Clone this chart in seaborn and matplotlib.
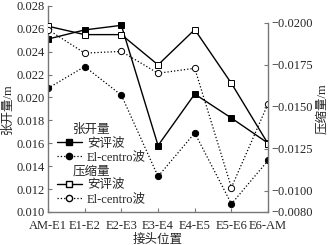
import matplotlib
matplotlib.use("Agg")
import matplotlib.pyplot as plt
import seaborn as sns
import pandas as pd
from matplotlib.lines import Line2D

sns.set_style("ticks")
plt.rcParams['font.family'] = ['Liberation Serif', 'Noto Sans CJK SC']
plt.rcParams['axes.unicode_minus'] = True

categories = ["AM-E1", "E1-E2", "E2-E3", "E3-E4", "E4-E5", "E5-E6", "E6-AM"]
open_anping = [0.0251, 0.0259, 0.0263, 0.0158, 0.0203, 0.0182, 0.0160]
open_elcentro = [0.0208, 0.0227, 0.0202, 0.0131, 0.0169, 0.0107, 0.0145]
comp_anping = [-0.0198, -0.0193, -0.0193, -0.0175, -0.0196, -0.0164, -0.0128]
comp_elcentro = [-0.0196, -0.0182, -0.0183, -0.0170, -0.0173, -0.0102, -0.0152]
left_ticks = [0.010, 0.012, 0.014, 0.016, 0.018, 0.020, 0.022, 0.024, 0.026, 0.028]
right_ticks = [-0.0200, -0.0175, -0.0150, -0.0125, -0.0100, -0.00875]
right_labels = ["\u22120.0200", "\u22120.0175", "\u22120.0150", "\u22120.0125", "\u22120.0100", "\u22120.0080"]

fig = plt.figure(figsize=(3.31, 2.45), dpi=100)
ax = fig.add_axes([0.145, 0.135, 0.665, 0.841])
ax2 = ax.twinx()

spine_c = "#777777"
fs = 9

def draw(axis, vals, ls, marker, mfc, lw):
    df = pd.DataFrame({"x": categories, "y": vals})
    sns.lineplot(data=df, x="x", y="y", ax=axis, color="black", linestyle=ls,
                 linewidth=lw, marker=marker, markersize=4.5,
                 markerfacecolor=mfc, markeredgecolor="black", markeredgewidth=0.7,
                 sort=False, legend=False)

draw(ax, open_anping, "-", "s", "black", 1.0)
draw(ax, open_elcentro, ":", "o", "black", 0.9)
draw(ax2, comp_anping, "-", "s", "white", 1.0)
draw(ax2, comp_elcentro, ":", "o", "white", 0.9)

ax.set_xlim(0, 6)
ax.set_ylim(0.010, 0.028)
ax.set_yticks(left_ticks)
ax.set_yticklabels([f"{t:.3f}" for t in left_ticks], fontsize=fs)
ax.set_xticks(range(len(categories)))
ax.set_xticklabels(categories, fontsize=fs)
ax.set_xlabel("接头位置", fontsize=fs, labelpad=1)
ax.set_ylabel("张开量/m", fontsize=fs, labelpad=2)

ax2.set_ylim(-0.00875, -0.02101)
ax2.set_yticks(right_ticks)
ax2.set_yticklabels(right_labels, fontsize=fs)
ax2.set_ylabel("压缩量/m", fontsize=fs, labelpad=3)
ax2.set_xlabel("")

for a in (ax, ax2):
    a.spines["top"].set_visible(False)
    for s in a.spines.values():
        s.set_color(spine_c)
        s.set_linewidth(1.0)
    a.tick_params(direction="in", length=3, width=0.8, color=spine_c, pad=2)
ax.tick_params(axis="x", pad=6)
ax.spines["right"].set_visible(False)
ax2.spines["left"].set_visible(False)
ax2.spines["bottom"].set_visible(False)
ax2.spines["right"].set_bounds(-0.00875, -0.0200)

blank = Line2D([], [], linestyle="none")
handles = [
    blank,
    Line2D([], [], color="black", linestyle="-", lw=1.0, marker="s", markersize=4.5, mfc="black", mec="black"),
    Line2D([], [], color="black", linestyle=":", lw=0.9, marker="o", markersize=4.5, mfc="black", mec="black"),
    blank,
    Line2D([], [], color="black", linestyle="-", lw=1.0, marker="s", markersize=4.5, mfc="white", mec="black"),
    Line2D([], [], color="black", linestyle=":", lw=0.9, marker="o", markersize=4.5, mfc="white", mec="black"),
]
labels = ["张开量", "安评波", "El-centro波", "压缩量", "安评波", "El-centro波"]
leg = ax.legend(handles, labels, loc="lower left", bbox_to_anchor=(0.0, -0.01),
                frameon=False, fontsize=fs, handlelength=2.0, handletextpad=0.4,
                labelspacing=0.15, borderaxespad=0.3)
for t, lab in zip(leg.get_texts(), labels):
    if lab in ("张开量", "压缩量"):
        t.set_position((-14, 0))

fig.savefig("out.png", dpi=100)
